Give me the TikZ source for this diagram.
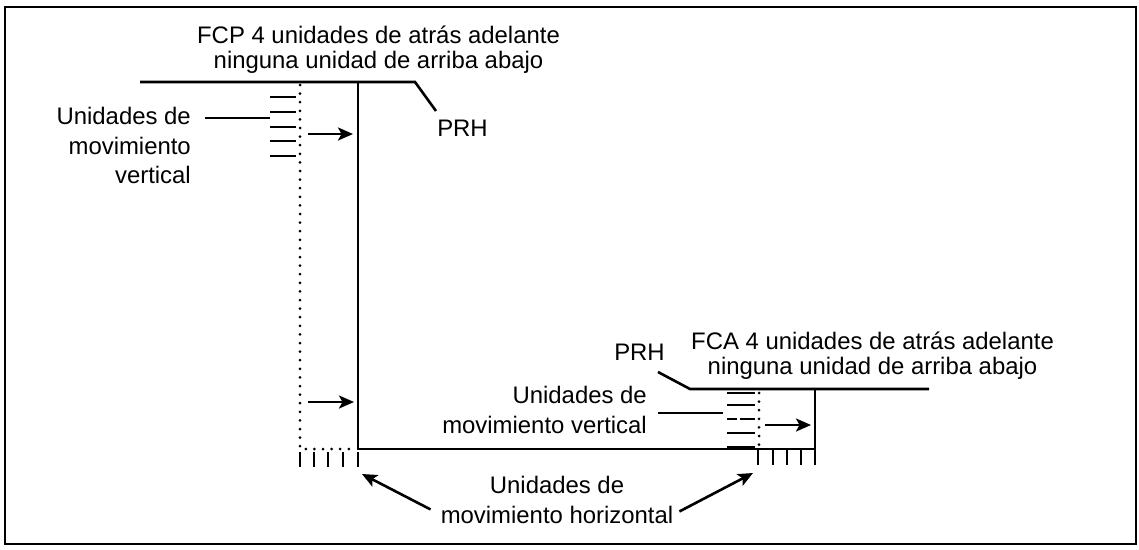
\documentclass[tikz,border=0pt]{standalone}
\usepackage{fontspec}
\setmainfont{Liberation Sans}
\usetikzlibrary{arrows.meta}
\begin{document}
\begin{tikzpicture}[x=1pt,y=-1pt,
  lbl/.style={inner sep=0pt, font=\fontsize{23.9}{29.5}\selectfont},
  tight/.style={inner sep=0pt, font=\fontsize{23.9}{24.5}\selectfont},
  main/.style={line width=2.6pt},
  thin/.style={line width=1.6pt},
  dots/.style={line width=3pt, line cap=round, dash pattern=on 0pt off 8.6pt},
  arr/.style={line width=2.6pt, -{Stealth[length=15pt,width=13pt,inset=3.5pt]}},
  frame/.style={line width=2.4pt}]
\useasboundingbox (0,0) rectangle (1139,549);
\draw[frame] (5,7) rectangle (1136,544);

% ---- coordinates of the structure
\coordinate (tl0) at (140,82);
\coordinate (tl1) at (415,82);
\coordinate (tl2) at (436,111);
\coordinate (vtop) at (358,82);
\coordinate (corner) at (358,449);
\coordinate (br) at (815,449);
\coordinate (rtop) at (815,389);
\coordinate (rl0) at (658,372);
\coordinate (rl1) at (690,389);
\coordinate (rl2) at (929,389);

% ---- labels
\node[tight, align=center, anchor=north] (fcp) at (378.5,26)
  {FCP 4 unidades de atrás adelante\\ninguna unidad de arriba abajo};
\node[lbl, anchor=base] (prh1) at (462.5,136) {PRH};
\node[lbl, align=right, anchor=north east] (uv1) at (191,107)
  {Unidades de\\movimiento\\vertical};
\node[tight, align=center, anchor=north] (fca) at (872.5,332)
  {FCA 4 unidades de atrás adelante\\ninguna unidad de arriba abajo};
\node[lbl, anchor=base] (prh2) at (639.5,360) {PRH};
\node[lbl, align=right, anchor=north east] (uv2) at (647,386)
  {Unidades de\\movimiento vertical};
\node[lbl, align=center, anchor=north] (uh) at (557,476)
  {Unidades de\\movimiento horizontal};

% ---- FCP outline
\draw[main] (tl0) -- (tl1) -- (tl2);
\draw[main] (vtop) -- (corner) -- (br);
% ---- FCA outline
\draw[main] (rl0) -- (rl1) -- (rl2);
\draw[main] (rtop) -- (br);

% ---- dotted lines
\coordinate (d0) at (300,85);
\coordinate (d1) at (300,449);
\coordinate (d2) at (352,449);
\draw[dots] (d0) -- (d1) -- (d2);
\coordinate (e0) at (759,393);
\coordinate (e1) at (759,445);
\draw[dots] (e0) -- (e1);

% ---- vertical units (left)
\foreach \y in {97,112,127,141,156}
  \draw[thin] (270,\y) -- (296,\y);
\coordinate (uv1end) at (270,118);
\draw[thin] (uv1.east |- uv1end) ++(14,0) -- (uv1end);

% ---- vertical units (right)
\foreach \y in {393,405,433}
  \draw[thin] (727,\y) -- (755,\y);
\draw[thin] (727,419) -- (737,419) (740,419) -- (755,419);
\draw[main] (727,447) -- (755,447);
\coordinate (uv2a) at (658,413);
\coordinate (uv2b) at (723,413);
\draw[main] (uv2a) -- (uv2b);

% ---- horizontal units
\foreach \x in {300,314,328,343,358}
  \draw[thin] (\x,452) -- (\x,467);
\foreach \x in {758,773,787,801,815}
  \draw[thin] (\x,449) -- (\x,465);

% ---- arrows
\coordinate (a1s) at (308,134); \coordinate (a1e) at (353,134);
\coordinate (a2s) at (308,402); \coordinate (a2e) at (354,402);
\coordinate (a3s) at (765,425); \coordinate (a3e) at (811,425);
\draw[arr] (a1s) -- (a1e);
\draw[arr] (a2s) -- (a2e);
\draw[arr] (a3s) -- (a3e);
\coordinate (h1e) at (362,474);
\coordinate (h2e) at (753,473);
\draw[arr] (uh.south west) ++(-10,-14) -- (h1e);
\draw[arr] (uh.south east) ++(6,-12) -- (h2e);
\end{tikzpicture}
\end{document}
